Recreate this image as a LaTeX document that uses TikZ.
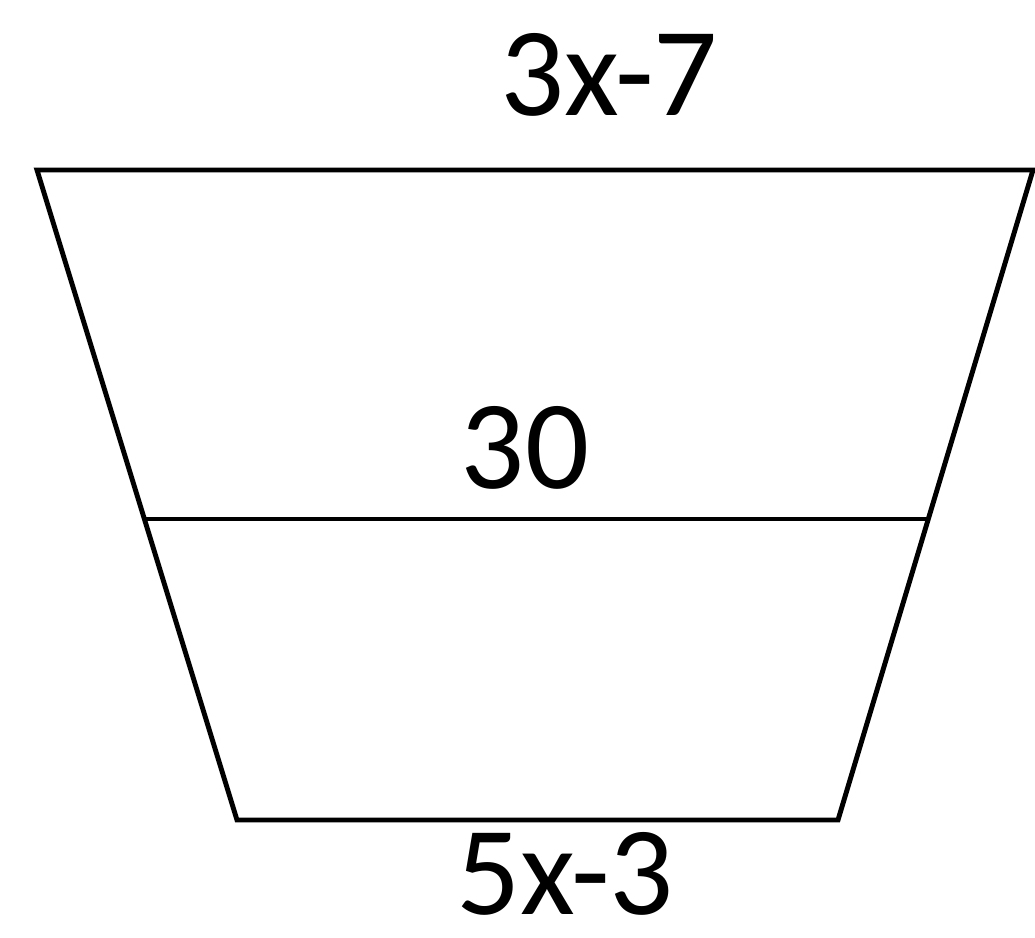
\documentclass[tikz,border=0pt]{standalone}
\usepackage{fontspec}
\setmainfont{Carlito}
\begin{document}
\begin{tikzpicture}[x=0.02cm,y=-0.02cm,
  edge/.style={line width=2.8pt,line join=miter,black},
  lbl/.style={font=\fontsize{72}{76}\selectfont,inner sep=0pt,anchor=base}]
\useasboundingbox (0,0) rectangle (1035,937);
\coordinate (tl) at (37,170);
\coordinate (tr) at (1033,170);
\coordinate (ml) at (145,519);
\coordinate (mr) at (929,519);
\coordinate (bl) at (237,820);
\coordinate (br) at (838,820);
\draw[edge] (tl) -- (tr) -- (br) -- (bl) -- cycle;
\draw[edge] (ml) -- (mr);
\node[lbl] (top) at (609,115) {3x-7};
\node[lbl] (mid) at (525,488) {30};
\node[lbl] (bot) at (565,914) {5x-3};
\end{tikzpicture}
\end{document}
